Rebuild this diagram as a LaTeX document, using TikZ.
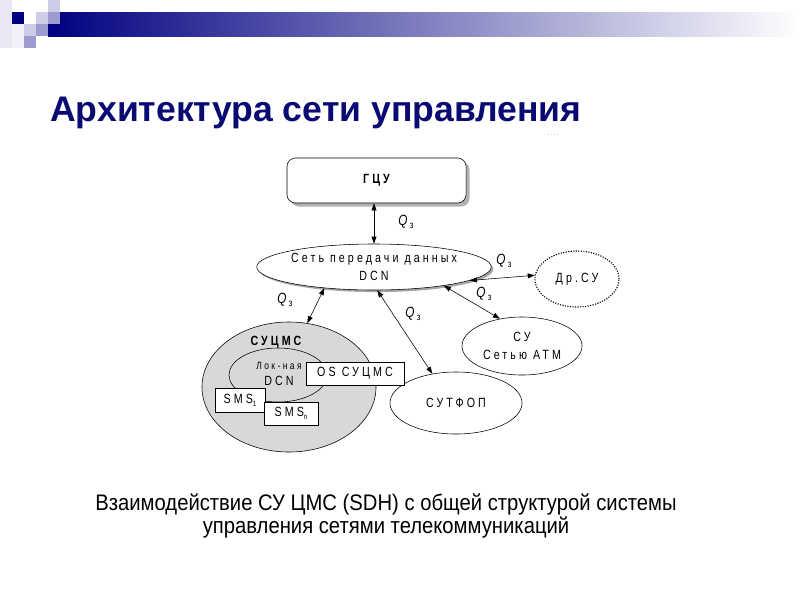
\documentclass[tikz,border=0pt]{standalone}
\usepackage{fontspec}
\setmainfont{Liberation Sans}
\newfontfamily\schemefont[FakeStretch=0.8,LetterSpace=23]{Liberation Sans}
\newfontfamily\capfont[FakeStretch=0.9]{Liberation Sans}
\usepackage{tikz}
\usetikzlibrary{shapes.geometric,shadows,arrows.meta}
\definecolor{slidenavy}{RGB}{0,0,128}
\definecolor{titlenavy}{RGB}{10,10,115}
\definecolor{lightlav}{RGB}{204,204,230}
\definecolor{midlav}{RGB}{156,156,208}
\definecolor{netgray}{RGB}{216,216,216}
\tikzset{
  schemetext/.style={
      font=\schemefont\fontsize{9.5}{13}\selectfont,
      align=center,
  },
  system/.style={
      schemetext,
      draw,
      ellipse,
      inner sep=0pt,
  },
  centre/.style={
      draw,
      rounded corners=6pt,
      fill=white,
      schemetext,
      drop shadow={shadow xshift=2.5pt, shadow yshift=-2.5pt, fill=gray!60, opacity=1},
  },
  module/.style={
      draw,
      fill=white,
      schemetext,
      inner sep=0pt,
  },
  qlink/.style={
      <->,
      >={Triangle[length=5pt,width=3.5pt]},
  },
}
\newcommand{\qport}{%
    {\fontsize{10.5}{12}\selectfont\itshape Q}\,\raisebox{-0.4ex}{\fontsize{7}{7}\selectfont з}%
}

\begin{document}
\begin{tikzpicture}[x=0.025cm,y=-0.025cm]
  \useasboundingbox (0,0) rectangle (800,600);

  % slide header
  \fill[lightlav!45] (0,0) rectangle (12,48);
  \fill[lightlav!30] (12,24) rectangle (24,48);
  \shade[left color=slidenavy, right color=white] (48,12) rectangle (800,36);
  \fill[slidenavy] (12,12) rectangle +(12,12);
  \fill[lightlav] (36,12) rectangle +(12,12);
  \fill[lightlav] (48,0) rectangle +(12,12);
  \fill[midlav] (48,12) rectangle +(12,12);
  \fill[lightlav] (24,24) rectangle +(12,12);
  \fill[midlav] (36,24) rectangle +(12,12);
  \fill[midlav] (24,36) rectangle +(12,12);

  \node (title) [anchor=base west, inner sep=0pt, text=titlenavy,
    font=\bfseries\fontsize{25.3}{29}\selectfont] at (50,121) {Архитектура сети управления};
  \node (dots) [schemetext, font=\schemefont\fontsize{5}{5}\selectfont, text=gray] at (553,135) {....};

  % management systems
  \node (gcu) [centre, minimum width=4.475cm, minimum height=1.125cm] at (376.5,180.5) {\bfseries ГЦУ};
  \node (dcn) [system, minimum width=5.6cm, minimum height=1.15cm, fill=white,
    drop shadow={shadow xshift=1.5pt, shadow yshift=-1.5pt, fill=gray!70, opacity=1}] at (374,267)
    {Сеть передачи данных\\DCN};
  \node (drsu) [system, densely dotted, thick, minimum width=2.1cm, minimum height=1.4cm] at (577,279) {Др.СУ};
  \node (atm) [system, minimum width=3cm, minimum height=1.45cm] at (522,346) {СУ\\Сетью АТМ};
  \node (sutfop) [system, minimum width=3.3cm, minimum height=1.55cm] at (456,403) {СУТФОП};

  % SDH management system
  \node (sucms) [system, fill=netgray, minimum width=4.35cm, minimum height=3.25cm] at (289,387) {};
  \node (sucmslabel) [schemetext] at (276,342) {\bfseries СУЦМС};
  \node (lan) [system, minimum width=2.45cm, minimum height=1.35cm] at (278,375) {};
  \node (lanlabel) [schemetext] at (279,374)
    {{\fontsize{7.5}{8}\selectfont Лок-ная}\\[-2pt]DCN};
  \node (os) [module, minimum width=2.45cm, minimum height=0.575cm] at (355,373.5) {OS СУЦМС};
  \node (sms1) [module, minimum width=1.25cm, minimum height=0.6cm] at (240,400)
    {SMS\raisebox{-0.4ex}{\fontsize{5.5}{6}\selectfont 1}};
  \node (smsn) [module, minimum width=1.35cm, minimum height=0.575cm] at (291,413.5)
    {SMS\raisebox{-0.4ex}{\fontsize{5.5}{6}\selectfont n}};

  % Q3 interfaces
  \draw[qlink] (dcn.north) -- (dcn.north |- gcu.south);
  \draw[qlink] (dcn.-8) -- (drsu.175);
  \draw[qlink] (dcn.-15) -- (atm.129);
  \draw[qlink] (dcn.-82) -- (sutfop.129);
  \draw[qlink] (dcn.203) -- (sucms.74);

  \node (q1) [schemetext] at (406,222) {\qport};
  \node (q2) [schemetext] at (504,261) {\qport};
  \node (q3) [schemetext] at (484,294) {\qport};
  \node (q4) [schemetext] at (413,314) {\qport};
  \node (q5) [schemetext] at (285,300) {\qport};

  \node (caption) [align=center, font=\capfont\fontsize{16}{16.5}\selectfont] at (386,516)
    {Взаимодействие СУ ЦМС (SDH) с общей структурой системы\\управления сетями телекоммуникаций};
\end{tikzpicture}
\end{document}
